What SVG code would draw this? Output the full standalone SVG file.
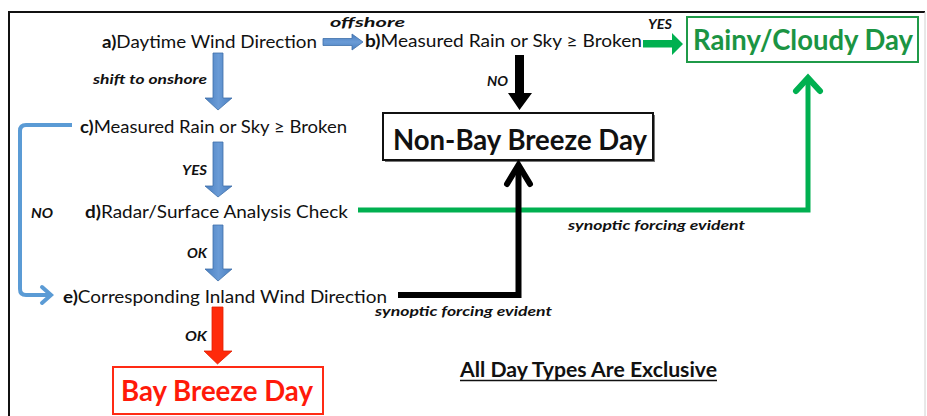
<svg xmlns="http://www.w3.org/2000/svg" width="927" height="416" viewBox="0 0 927 416">
<defs>
<linearGradient id="gv" x1="0" y1="0" x2="1" y2="0"><stop offset="0" stop-color="#4a7fc0"/><stop offset="0.5" stop-color="#6a9bd6"/><stop offset="1" stop-color="#4a7fc0"/></linearGradient>
<linearGradient id="gh" x1="0" y1="0" x2="0" y2="1"><stop offset="0" stop-color="#4a7fc0"/><stop offset="0.5" stop-color="#6a9bd6"/><stop offset="1" stop-color="#4a7fc0"/></linearGradient>
</defs>
<style>
.t{font-family:Lato,"Liberation Sans",sans-serif;font-size:17px;fill:#111}
.b{font-weight:bold}
.lb{font-family:Lato,"Liberation Sans",sans-serif;font-size:14px;font-weight:bold;font-style:italic;fill:#111}
.big{font-family:Lato,"Liberation Sans",sans-serif;font-size:29px;font-weight:bold}
.blue{fill:url(#gv);stroke:#3f70aa;stroke-width:0.8}
.blueh{fill:url(#gh);stroke:#3f70aa;stroke-width:0.8}
.ln{fill:none;stroke-linejoin:miter}
</style>
<rect width="927" height="416" fill="#fff"/>
<path d="M9,416 V12 H925" fill="none" stroke="#111" stroke-width="2"/>
<path d="M925,12 V416" fill="none" stroke="#d0d0d0" stroke-width="1"/>

<g id="node-a"><text class="t" x="102" y="48" textLength="215" lengthAdjust="spacingAndGlyphs"><tspan class="b">a)</tspan>Daytime Wind Direction</text></g>
<g id="node-b"><text class="t" x="365" y="47" textLength="277" lengthAdjust="spacingAndGlyphs"><tspan class="b">b)</tspan>Measured Rain or Sky ≥ Broken</text></g>
<g id="node-c"><text class="t" x="80" y="133" textLength="267" lengthAdjust="spacingAndGlyphs"><tspan class="b">c)</tspan>Measured Rain or Sky ≥ Broken</text></g>
<g id="node-d"><text class="t" x="85" y="218" textLength="263" lengthAdjust="spacingAndGlyphs"><tspan class="b">d)</tspan>Radar/Surface Analysis Check</text></g>
<g id="node-e"><text class="t" x="63" y="303" textLength="324" lengthAdjust="spacingAndGlyphs"><tspan class="b">e)</tspan>Corresponding Inland Wind Direction</text></g>

<g id="node-rainy">
<rect x="687" y="17" width="231" height="45" fill="#fff" stroke="#1f9a48" stroke-width="2"/>
<text class="big" x="693" y="50" fill="#1b9443" textLength="220" lengthAdjust="spacingAndGlyphs">Rainy/Cloudy Day</text>
</g>
<g id="node-nonbay">
<rect x="385" y="115" width="270" height="47" fill="#777" stroke="none"/>
<rect x="383" y="113" width="270" height="47" fill="#fff" stroke="#111" stroke-width="2"/>
<text class="big" x="393" y="150" fill="#111" textLength="254" lengthAdjust="spacingAndGlyphs">Non-Bay Breeze Day</text>
</g>
<g id="node-bay">
<rect x="113" y="367" width="210" height="47" fill="#fff" stroke="#ff2a14" stroke-width="2"/>
<text class="big" x="121" y="401" fill="#ff1a0a" textLength="192" lengthAdjust="spacingAndGlyphs">Bay Breeze Day</text>
</g>
<g id="note">
<text class="t b" x="460" y="377" style="font-size:20px" fill="#111" textLength="257" lengthAdjust="spacingAndGlyphs">All Day Types Are Exclusive</text>
<line x1="460" y1="380.5" x2="717" y2="380.5" stroke="#111" stroke-width="1.6"/>
</g>

<g id="connectors">
<polygon class="blueh" points="323,38.5 352,38.5 352,34 363,42 352,50 352,45.5 323,45.5"/>
<polygon class="blue" points="213,53 223,53 223,98 232,98 218,110 205,98 213,98"/>
<polygon class="blue" points="213,142 223,142 223,186 232,186 218,197 205,186 213,186"/>
<polygon class="blue" points="213,225 223,225 223,269 232,269 218,281 205,269 213,269"/>
<polygon points="212,307 223,307 223,351 232,351 217.5,364 204,351 212,351" fill="#ff2a0a" stroke="#e01e00" stroke-width="0.8"/>
<polygon points="643,40 672,40 672,33 683,44 672,55 672,47.5 643,47.5" fill="#00b050"/>
<polygon points="515,55 524,55 524,93 532,93 519.5,110 508,93 515,93" fill="#000"/>
<path class="ln" d="M72,125 H26 Q20,125 20,131 V289 Q20,295 26,295 H49" stroke="#5b9bd5" stroke-width="4"/>
<path class="ln" d="M42,287 L51,295 L42,303" stroke="#5b9bd5" stroke-width="4" stroke-linecap="round" stroke-linejoin="round"/>
<path class="ln" d="M358,210 H808 V80" stroke="#00b050" stroke-width="5"/>
<path class="ln" d="M796,91 L808,78 L820,91" stroke="#00b050" stroke-width="6" stroke-linecap="round" stroke-linejoin="round"/>
<path class="ln" d="M398,295 H518.5 V165" stroke="#000" stroke-width="6"/>
<path class="ln" d="M507,184 L518.5,165 L530,184" stroke="#000" stroke-width="6" stroke-linecap="round" stroke-linejoin="round"/>
<text class="lb" x="330" y="27" textLength="75" lengthAdjust="spacingAndGlyphs">offshore</text>
<text class="lb" x="648" y="29" textLength="24" lengthAdjust="spacingAndGlyphs">YES</text>
<text class="lb" x="93" y="84" textLength="114" lengthAdjust="spacingAndGlyphs">shift to onshore</text>
<text class="lb" x="487" y="86" textLength="21" lengthAdjust="spacingAndGlyphs">NO</text>
<text class="lb" x="182" y="175" textLength="25" lengthAdjust="spacingAndGlyphs">YES</text>
<text class="lb" x="31" y="218" textLength="22" lengthAdjust="spacingAndGlyphs">NO</text>
<text class="lb" x="187" y="258" textLength="20" lengthAdjust="spacingAndGlyphs">OK</text>
<text class="lb" x="568" y="230" textLength="177" lengthAdjust="spacingAndGlyphs">synoptic forcing evident</text>
<text class="lb" x="375" y="316" textLength="177" lengthAdjust="spacingAndGlyphs">synoptic forcing evident</text>
<text class="lb" x="185" y="341" textLength="22" lengthAdjust="spacingAndGlyphs">OK</text>
</g>
</svg>
